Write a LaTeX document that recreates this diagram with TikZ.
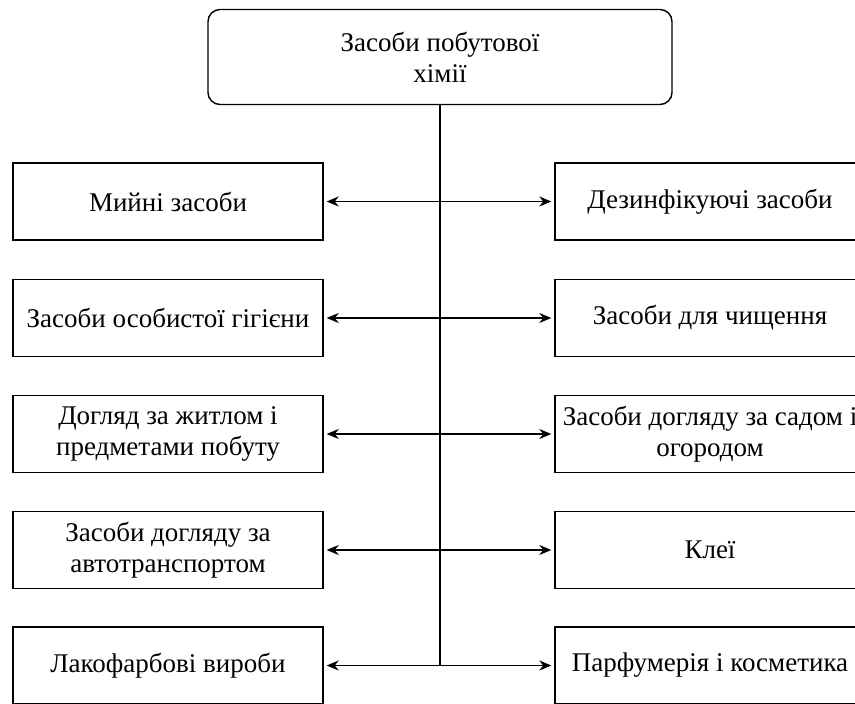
\documentclass[tikz,border=0pt]{standalone}
\usepackage{fontspec}
\setmainfont{Liberation Serif}[Script=Cyrillic]
\usetikzlibrary{arrows.meta}
\begin{document}
\begin{tikzpicture}[x=1pt,y=1pt]
  \tikzstyle{every node}+=[inner sep=0pt, font=\rmfamily\fontsize{27}{31}\selectfont, align=center]
  \tikzstyle{box}=[draw=black, line width=1.4pt, minimum width=310pt, minimum height=77pt]
  \tikzstyle{link}=[black, line width=1.4pt, {Stealth[length=12pt,width=10pt]}-{Stealth[length=12pt,width=10pt]}, shorten <=3pt, shorten >=3pt]
  \useasboundingbox (0,0) rectangle (855,-704);
  \clip (0,0) rectangle (855,-704);
  \node [draw=black, line width=1.4pt, rounded corners=12pt, minimum width=464pt, minimum height=95pt] (top) at (440,-57) {Засоби побутової\\хімії};
  \node [box] (m1) at (168,-201.5) {Мийні засоби};
  \node [box] (d1) at (710,-201.5) {Дезинфікуючі засоби};
  \node [box] (m2) at (168,-318) {Засоби особистої гігієни};
  \node [box] (d2) at (710,-318) {Засоби для чищення};
  \node [box] (m3) at (168,-434) {Догляд за житлом і\\предметами побуту};
  \node [box] (d3) at (710,-434) {Засоби догляду за садом і\\огородом};
  \node [box] (m4) at (168,-550) {Засоби догляду за\\автотранспортом};
  \node [box] (d4) at (710,-550) {Клеї};
  \node [box] (m5) at (168,-665.5) {Лакофарбові вироби};
  \node [box] (d5) at (710,-665.5) {Парфумерія і косметика};
  \draw [black, line width=1.4pt] (top.south) -- (top.south |- m5.east);
  \draw [link] (m1.east) -- (d1.west);
  \draw [link] (m2.east) -- (d2.west);
  \draw [link] (m3.east) -- (d3.west);
  \draw [link] (m4.east) -- (d4.west);
  \draw [link] (m5.east) -- (d5.west);
\end{tikzpicture}
\end{document}
